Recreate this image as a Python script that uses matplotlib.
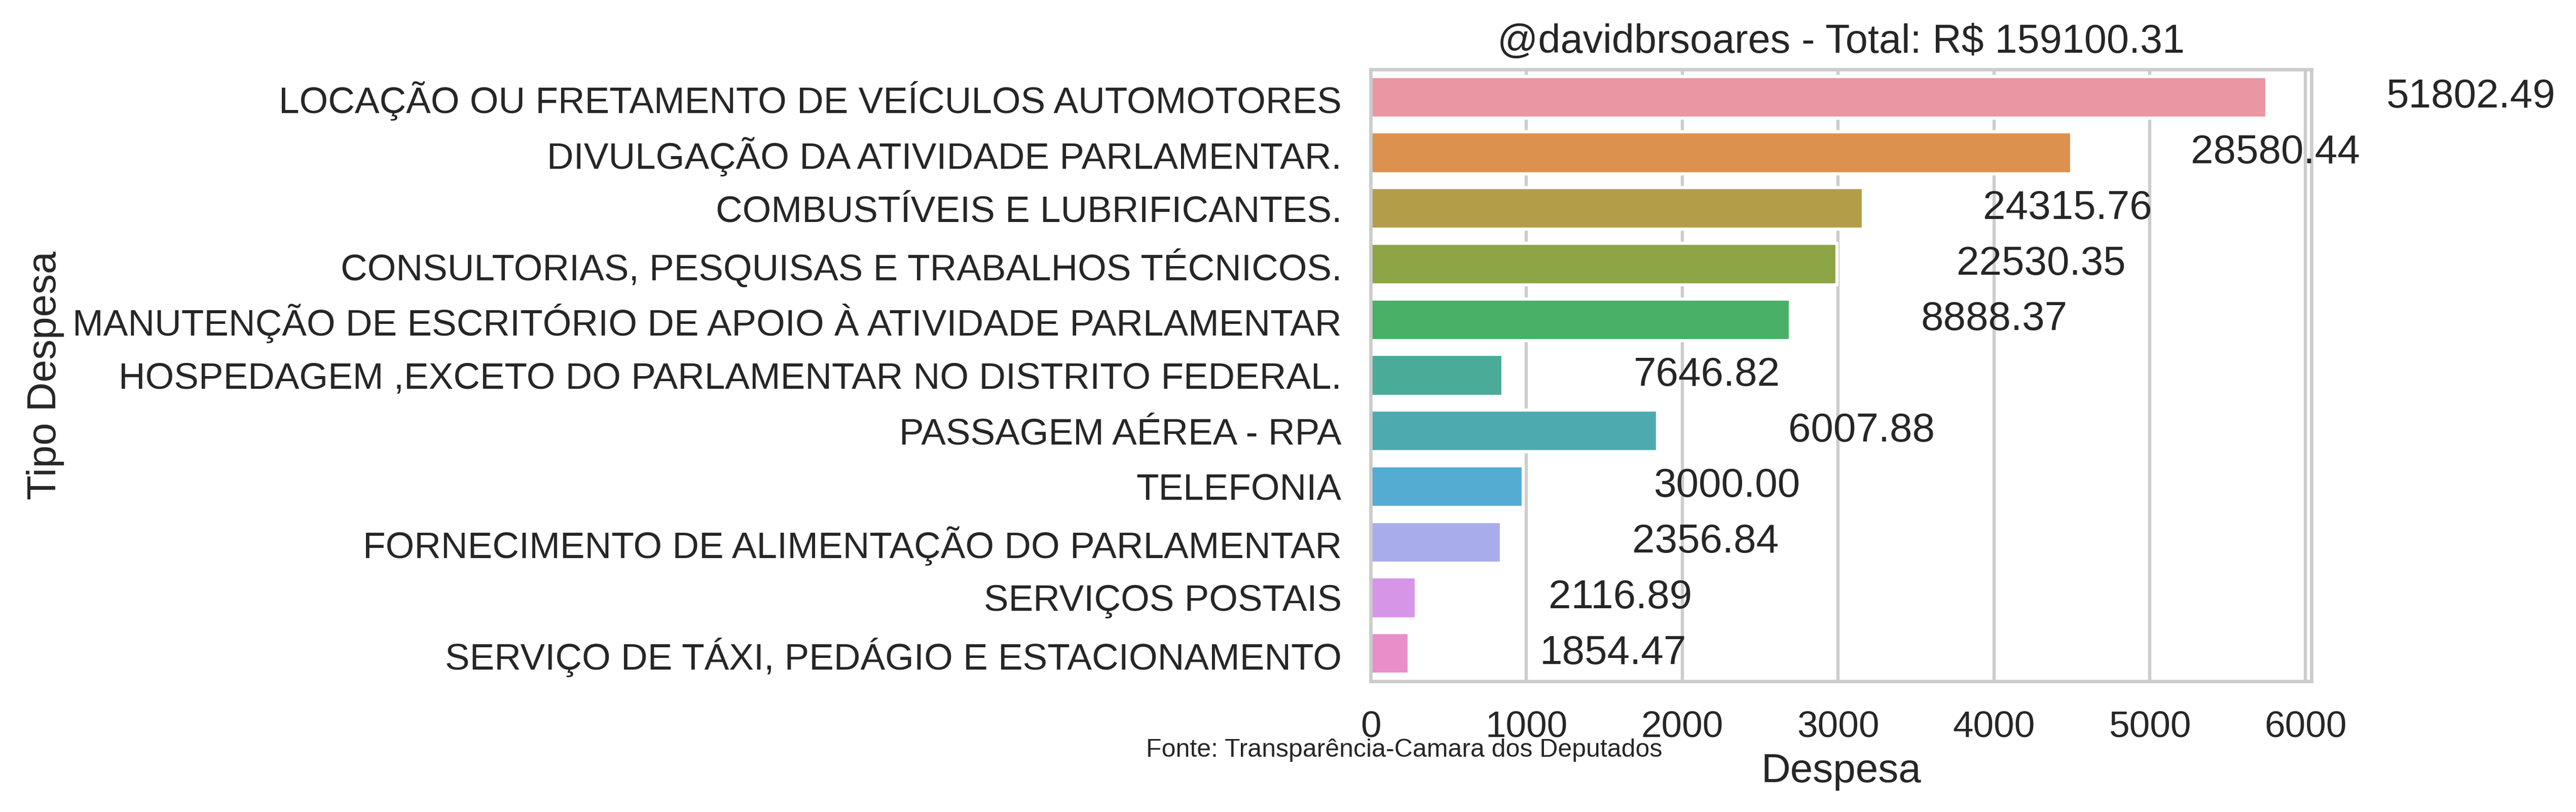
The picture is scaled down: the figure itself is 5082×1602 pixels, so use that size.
import matplotlib
matplotlib.use("Agg")
import matplotlib.pyplot as plt
import seaborn as sns

categories = [
    "LOCAÇÃO OU FRETAMENTO DE VEÍCULOS AUTOMOTORES",
    "DIVULGAÇÃO DA ATIVIDADE PARLAMENTAR.",
    "COMBUSTÍVEIS E LUBRIFICANTES.",
    "CONSULTORIAS, PESQUISAS E TRABALHOS TÉCNICOS.",
    "MANUTENÇÃO DE ESCRITÓRIO DE APOIO À ATIVIDADE PARLAMENTAR",
    "HOSPEDAGEM ,EXCETO DO PARLAMENTAR NO DISTRITO FEDERAL.",
    "PASSAGEM AÉREA - RPA",
    "TELEFONIA",
    "FORNECIMENTO DE ALIMENTAÇÃO DO PARLAMENTAR",
    "SERVIÇOS POSTAIS",
    "SERVIÇO DE TÁXI, PEDÁGIO E ESTACIONAMENTO",
]
bar_values = [5750, 4498, 3161, 2992, 2693, 849, 1841, 979, 839, 293, 247]
totals = [51802.49, 28580.44, 24315.76, 22530.35, 8888.37, 7646.82,
          6007.88, 3000.00, 2356.84, 2116.89, 1854.47]

sns.set_theme(context="talk", style="whitegrid")
plt.rcParams["font.family"] = ["Liberation Sans", "DejaVu Sans"]

palette = [sns.desaturate(c, 0.75) for c in sns.husl_palette(len(categories), l=.7)]

fig = plt.figure(figsize=(5082 / 300, 1602 / 300), dpi=300)
ax = fig.add_axes([0.53207, 0.16105, 0.36521, 0.75343])

ypos = list(range(len(categories)))
ax.barh(ypos, bar_values, height=0.75, color=palette, zorder=2)
ax.set_ylim(len(categories) - 0.5, -0.5)
ax.set_xlim(0, max(bar_values) * 1.05)
ax.set_yticks(ypos)
ax.set_yticklabels(categories)
ax.set_xticks([0, 1000, 2000, 3000, 4000, 5000, 6000])
ax.tick_params(axis="both", length=0, pad=13.7, labelsize=17.5)
ax.yaxis.grid(False)
ax.xaxis.grid(True, zorder=0)
ax.set_axisbelow(True)
for s in ax.spines.values():
    s.set_linewidth(1.6)

for y, w, t in zip(ypos, bar_values, totals):
    ax.text(w + 1310, y, f"{t:.2f}", ha="center", va="center",
            fontsize=19.2, color=".15")

ax.set_xlabel("Despesa", fontsize=19.2)
ax.set_ylabel("Tipo Despesa", fontsize=19.2)
ax.set_title(f"@davidbrsoares - Total: R$ {sum(totals):.2f}", fontsize=19, pad=8)

fig.text(2261 / 5082, (1602 - 1493) / 1602,
         "Fonte: Transparência-Camara dos Deputados",
         fontsize=12, ha="left", va="baseline", color=".15")

fig.savefig("out.png", dpi=300)
